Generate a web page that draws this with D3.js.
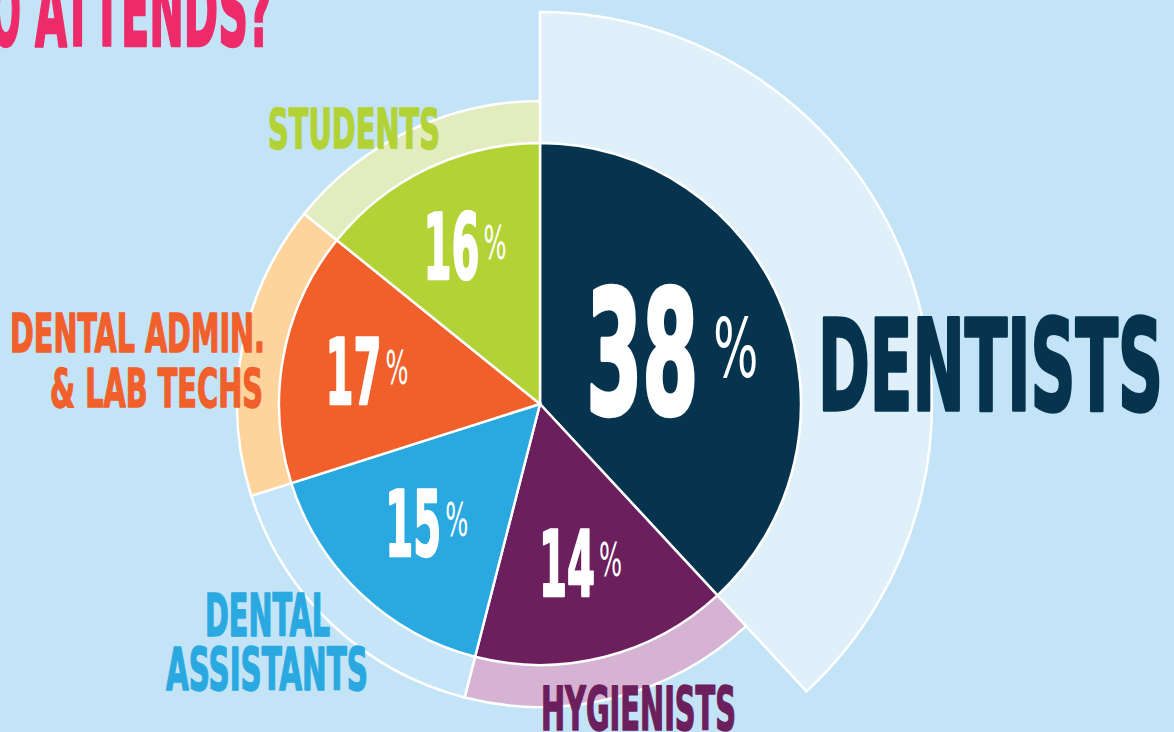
<!DOCTYPE html>
<html>
<head>
<meta charset="utf-8">
<script src="https://cdn.jsdelivr.net/npm/d3@7"></script>
<style>
  html, body { margin: 0; padding: 0; background: #c3e3f7; overflow: hidden; }
</style>
</head>
<body>
<div id="canvas"></div>
<script>
"use strict"

/* Data */
let categories = ["DENTISTS", "HYGIENISTS", "DENTAL ASSISTANTS", "DENTAL ADMIN. & LAB TECHS", "STUDENTS"];
let percentLabels = [38, 14, 15, 17, 16];
// sweep of each slice as it is drawn (percent of the full circle)
let sliceShares = [38.1, 15.9, 16.1, 15.7, 14.2];

/* Colours */
let sliceColors = ["#06344f", "#6b1f5d", "#29a9e0", "#f15f2b", "#b2d235"];
let ringColors = ["#dff0fa", "#d6b3d3", "#c6e5f8", "#fdd49c", "#e2ecbe"];

/* Drawing config */
let svgWidth = 1174;
let svgHeight = 732;
let cx = 540;
let cy = 404;
let pieRadius = 261;
let ringRadius = [392, 303, 303, 303, 303];
let pctRadius = [142, 165, 165, 176, 174];
let fontFamily = "'Liberation Sans Narrow', 'DejaVu Sans Condensed', 'Liberation Sans', sans-serif";

let svg = d3.select("#canvas")
    .append("svg")
    .attr("width", svgWidth)
    .attr("height", svgHeight);

svg.append("rect")
    .attr("width", svgWidth)
    .attr("height", svgHeight)
    .attr("fill", "#c3e3f7");

/* Helper: condensed text squeezed to the width measured in the picture */
function fitText(parent, str, x, y, width, size, color) {
    return parent.append("text")
        .attr("x", x)
        .attr("y", y)
        .attr("font-family", fontFamily)
        .attr("font-weight", 700)
        .attr("font-size", size)
        .attr("fill", color)
        .attr("stroke", color)
        .attr("stroke-width", size / 38)
        .attr("stroke-linejoin", "round")
        .attr("textLength", width)
        .attr("lengthAdjust", "spacingAndGlyphs")
        .text(str);
}

/* Title (cut off at top-left) */
fitText(svg, "WHO", -78, 46, 99, 100, "#ee2b6a");
fitText(svg, "ATTENDS?", 35, 46, 237, 100, "#ee2b6a");

/* Pie layout */
let rows = categories.map(function (c, i) {
    return {name: c, share: sliceShares[i], pct: percentLabels[i], i: i};
});

let pie = d3.pie()
    .sort(null)
    .value(function (d) { return d.share; });

let arcs = pie(rows);

let chart = svg.append("g")
    .attr("transform", "translate(" + cx + "," + cy + ")");

/* Outer ring wedges (drawn first, from the centre) */
chart.selectAll("path.ring")
    .data(arcs)
    .join("path")
    .attr("class", "ring")
    .attr("d", function (d) {
        return d3.arc().innerRadius(0).outerRadius(ringRadius[d.data.i])(d);
    })
    .attr("fill", function (d) { return ringColors[d.data.i]; })
    .attr("stroke", "#ffffff")
    .attr("stroke-width", 2.5);

/* Inner pie */
let arc = d3.arc().innerRadius(0).outerRadius(pieRadius);

chart.selectAll("path.slice")
    .data(arcs)
    .join("path")
    .attr("class", "slice")
    .attr("d", arc)
    .attr("fill", function (d) { return sliceColors[d.data.i]; })
    .attr("stroke", "#ffffff")
    .attr("stroke-width", 2.5);

/* Percent labels at the slice centroid: number + small raised % in one text */
arcs.forEach(function (d) {
    let i = d.data.i;
    let pos = d3.arc().innerRadius(pctRadius[i]).outerRadius(pctRadius[i]).centroid(d);
    let big = i === 0;
    let numW = big ? 112 : 56;
    let gap = big ? 15 : 4;
    let pctW = big ? 45 : 23;
    let total = numW + gap + pctW;
    let numSize = big ? 172 : 90;
    let capH = numSize * 0.72;
    let pctSize = big ? 82 : 46;
    let raise = big ? 37 : 20;

    let t = chart.append("text")
        .attr("x", pos[0] - total / 2)
        .attr("y", pos[1] + capH / 2)
        .attr("font-family", fontFamily)
        .attr("fill", "#ffffff");

    t.append("tspan")
        .attr("font-weight", 700)
        .attr("font-size", numSize)
        .attr("stroke", "#ffffff")
        .attr("stroke-width", numSize / 38)
        .attr("stroke-linejoin", "round")
        .attr("textLength", numW)
        .attr("lengthAdjust", "spacingAndGlyphs")
        .text(String(d.data.pct));

    t.append("tspan")
        .attr("x", pos[0] - total / 2 + numW + gap)
        .attr("dy", -raise)
        .attr("font-weight", 400)
        .attr("font-size", pctSize)
        .attr("textLength", pctW)
        .attr("lengthAdjust", "spacingAndGlyphs")
        .text("%");
});

/* Category names */
let nameLines = [
    {text: "DENTISTS", x: 818, y: 410, w: 345, size: 126, cat: 0},
    {text: "HYGIENISTS", x: 541, y: 730, w: 195, size: 60, cat: 1},
    {text: "DENTAL", x: 205, y: 636, w: 125, size: 58, cat: 2},
    {text: "ASSISTANTS", x: 166, y: 690, w: 202, size: 58, cat: 2},
    {text: "DENTAL ADMIN.", x: 10, y: 352, w: 255, size: 54, cat: 3},
    {text: "& LAB TECHS", x: 50, y: 407, w: 213, size: 54, cat: 3},
    {text: "STUDENTS", x: 268, y: 148, w: 172, size: 56, cat: 4}
];

nameLines.forEach(function (n) {
    fitText(svg, n.text, n.x, n.y, n.w, n.size, sliceColors[n.cat]);
});
</script>
</body>
</html>
